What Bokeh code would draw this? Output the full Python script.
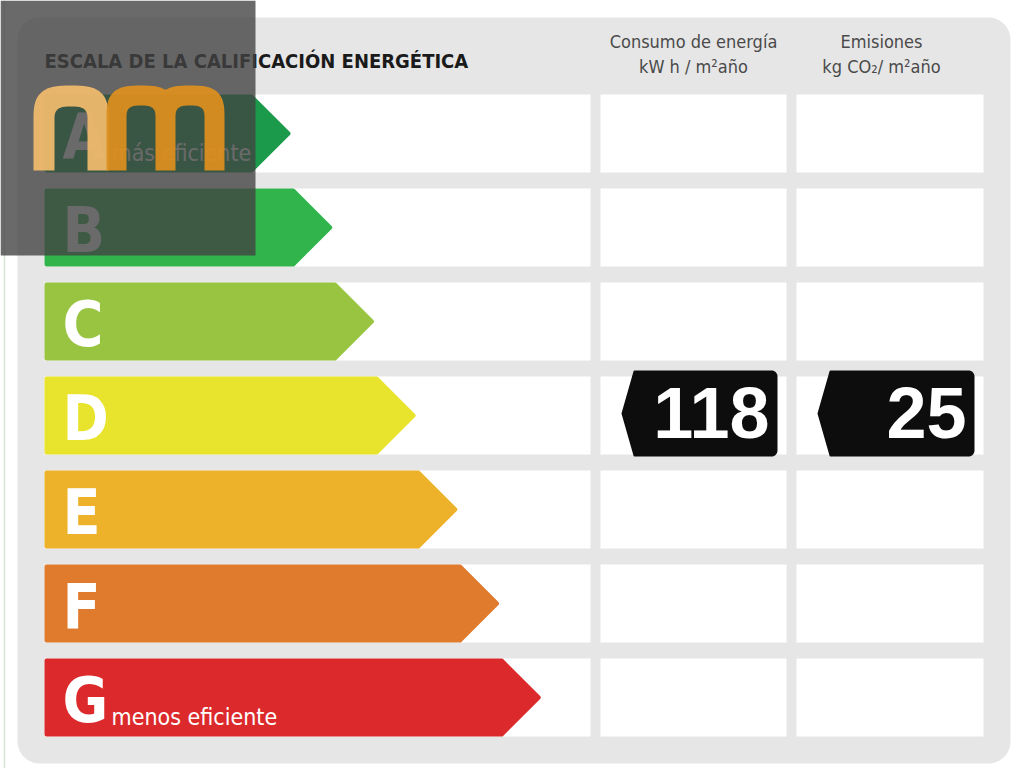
import numpy as np
from bokeh.plotting import figure
from bokeh.models import Range1d
from bokeh.core.properties import value
from bokeh.embed import file_html
from bokeh.resources import INLINE

# ---------------- data ----------------
title = "ESCALA DE LA CALIFICACIÓN ENERGÉTICA"
grades = ["A", "B", "C", "D", "E", "F", "G"]
grade_colors = ["#1b9a4b", "#30b44b", "#98c441", "#e8e42d", "#edb22a", "#e07b2e", "#dc2a2c"]
grade_notes = ["más eficiente", "", "", "", "", "", "menos eficiente"]
column_titles = ["Consumo de energía", "Emisiones"]
column_units = ["kW h / m²año", "kg CO₂/ m²año"]
column_grades = ["D", "D"]
column_values = [118, 25]

# ---------------- layout ----------------
W, H = 1024, 768
OFF = 0
NARROW = "DejaVu Sans Condensed"
SANS = "Liberation Sans"

ROW_TOP0, ROW_STEP, ROW_H = 94, 94, 78
LEFT_X0, LEFT_X1 = 44, 590
COLS = [(600, 786), (796, 983)]
HEAD_X = [693, 881]
TIP0, TIP_STEP, POINT = 290, 41.7, 39


def arc(cx, cy, r, a0, a1, n=10):
    t = np.radians(np.linspace(a0, a1, n))
    return list(cx + r * np.cos(t)), list(cy - r * np.sin(t))


def rounded_rect(x0, y0, x1, y1, r):
    xs, ys = [], []
    for cx, cy, a0, a1 in [(x0 + r, y0 + r, 180, 90), (x1 - r, y0 + r, 90, 0),
                           (x1 - r, y1 - r, 0, -90), (x0 + r, y1 - r, -90, -180)]:
        ax, ay = arc(cx, cy, r, a0, a1)
        xs += ax
        ys += ay
    return xs, ys


def hump(cx, cy, a, b, t0, t1, n=40, e=3.0):
    t = np.radians(np.linspace(t0, t1, n))
    c, s = np.cos(t), np.sin(t)
    x = cx + a * np.sign(c) * np.abs(c) ** (2 / e)
    y = cy - b * np.abs(s) ** (2 / e)
    return list(x), list(y)


p = figure(width=W, height=H, x_range=Range1d(OFF, OFF + W), y_range=Range1d(OFF + H, OFF),
           output_backend="svg", toolbar_location=None, min_border=0,
           x_axis_location=None, y_axis_location=None,
           background_fill_color="white", border_fill_color="white", outline_line_color=None)
p.grid.visible = False

# faint left rule
p.line([4, 4], [0, 768], line_color="#d7e3d4", line_width=1.5)

# panel
px, py = rounded_rect(17, 17, 1010, 763, 22)
p.patch(px, py, fill_color="#e6e6e6", line_color=None)

# cells
n = len(grades)
tops = [ROW_TOP0 + ROW_STEP * i for i in range(n)]
bots = [t + ROW_H for t in tops]
mids = [t + ROW_H / 2 for t in tops]
lefts, rights, ctops, cbots = [], [], [], []
for t, b in zip(tops, bots):
    for x0, x1 in [(LEFT_X0, LEFT_X1)] + COLS:
        lefts.append(x0); rights.append(x1); ctops.append(t); cbots.append(b)
p.quad(left=lefts, right=rights, top=ctops, bottom=cbots, fill_color="white", line_color=None)

# arrows
axs, ays = [], []
for i in range(n):
    tip = TIP0 + TIP_STEP * i
    t, b, m = tops[i] + 2, bots[i] - 2, mids[i]
    axs.append([LEFT_X0 + 2, tip - POINT, tip - 2, tip - POINT, LEFT_X0 + 2])
    ays.append([t, t, m, b, b])
p.patches(axs, ays, fill_color=grade_colors, line_color=grade_colors, line_width=4, line_join="round")

# grade letters and notes
p.text(x=[62] * n, y=[t + 42 for t in tops], text=grades, text_font=value(NARROW),
       text_font_size="62px", text_font_style="bold", text_color="white",
       text_align="left", text_baseline="middle")
p.text(x=[111] * n, y=[t + 58 for t in tops], text=grade_notes, text_font=value(NARROW),
       text_font_size="23px", text_color="white", text_align="left", text_baseline="middle")

# title & headers
p.text(x=[44], y=[60], text=[title], text_font=value(NARROW), text_font_size="20px",
       text_font_style="bold", text_color="#1a1a1a", text_align="left", text_baseline="middle")
p.text(x=HEAD_X, y=[41, 41], text=column_titles, text_font=value(NARROW), text_font_size="18px",
       text_color="#4a4a4a", text_align="center", text_baseline="middle")
p.text(x=HEAD_X, y=[66, 66], text=column_units, text_font=value(NARROW), text_font_size="18px",
       text_color="#4a4a4a", text_align="center", text_baseline="middle")

# value tags
txs, tys, nx, ny = [], [], [], []
for (x0, x1), g in zip(COLS, column_grades):
    i = grades.index(g)
    xl, xr = x0 + 22, x1 - 10
    top, bot, m = tops[i] - 5, bots[i] + 1, mids[i] - 2
    s, r = 12, 5
    xs = [xl + s]
    ys = [top]
    ax, ay = arc(xr - r, top + r, r, 90, 0)
    xs += ax; ys += ay
    ax, ay = arc(xr - r, bot - r, r, 0, -90)
    xs += ax; ys += ay
    xs += [xl + s, xl]
    ys += [bot, m]
    txs.append(xs); tys.append(ys)
    nx.append(xr - 7); ny.append(m - 1)
p.patches(txs, tys, fill_color="#0d0d0d", line_color="#0d0d0d", line_width=2, line_join="round")
p.text(x=nx, y=ny, text=[str(v) for v in column_values], text_font=value(SANS),
       text_font_size="72px", text_font_style="bold", text_color="white",
       text_align="right", text_baseline="middle")

# watermark
p.quad(left=[OFF], right=[255], top=[OFF], bottom=[255], fill_color="#424242",
       fill_alpha=0.79, line_color=None)


def letter_n(x0, x1, w, top, bot, b):
    a = (x1 - x0) / 2
    cx, cy = x0 + a, top + b
    ox, oy = hump(cx, cy, a, b, 180, 0)
    ix, iy = hump(cx, cy, a - w, b - w, 0, 180)
    xs = [x0] + ox + [x1, x1 - w] + ix + [x0 + w]
    ys = [bot] + oy + [bot, bot] + iy + [bot]
    return xs, ys


def letter_m(x0, x1, w, top, bot, b):
    xm = (x0 + x1) / 2
    a1 = (xm + w / 2 - x0) / 2
    c1 = x0 + a1
    a2 = (x1 - (xm - w / 2)) / 2
    c2 = xm - w / 2 + a2
    cy = top + b
    o1x, o1y = hump(c1, cy, a1, b, 180, 0)
    o2x, o2y = hump(c2, cy, a2, b, 180, 0)
    k1 = [j for j, v in enumerate(o1x) if v <= xm]
    k2 = [j for j, v in enumerate(o2x) if v >= xm]
    i1x, i1y = hump(c1, cy, a1 - w, b - w, 0, 180)
    i2x, i2y = hump(c2, cy, a2 - w, b - w, 0, 180)
    xs = [x0] + [o1x[j] for j in k1] + [o2x[j] for j in k2] + [x1, x1 - w] + i2x + \
         [xm + w / 2, xm - w / 2] + i1x + [x0 + w]
    ys = [bot] + [o1y[j] for j in k1] + [o2y[j] for j in k2] + [bot, bot] + i2y + \
         [bot, bot] + i1y + [bot]
    return xs, ys


nxs, nys = letter_n(33, 108, 21, 85, 170, 34)
mxs, mys = letter_m(106, 224, 20, 85, 170, 32)
p.patches([nxs, mxs], [nys, mys], fill_color=["#f2bd6c", "#df901e"], fill_alpha=0.92, line_color=None)

open("out.html", "w").write(file_html(p, INLINE))
